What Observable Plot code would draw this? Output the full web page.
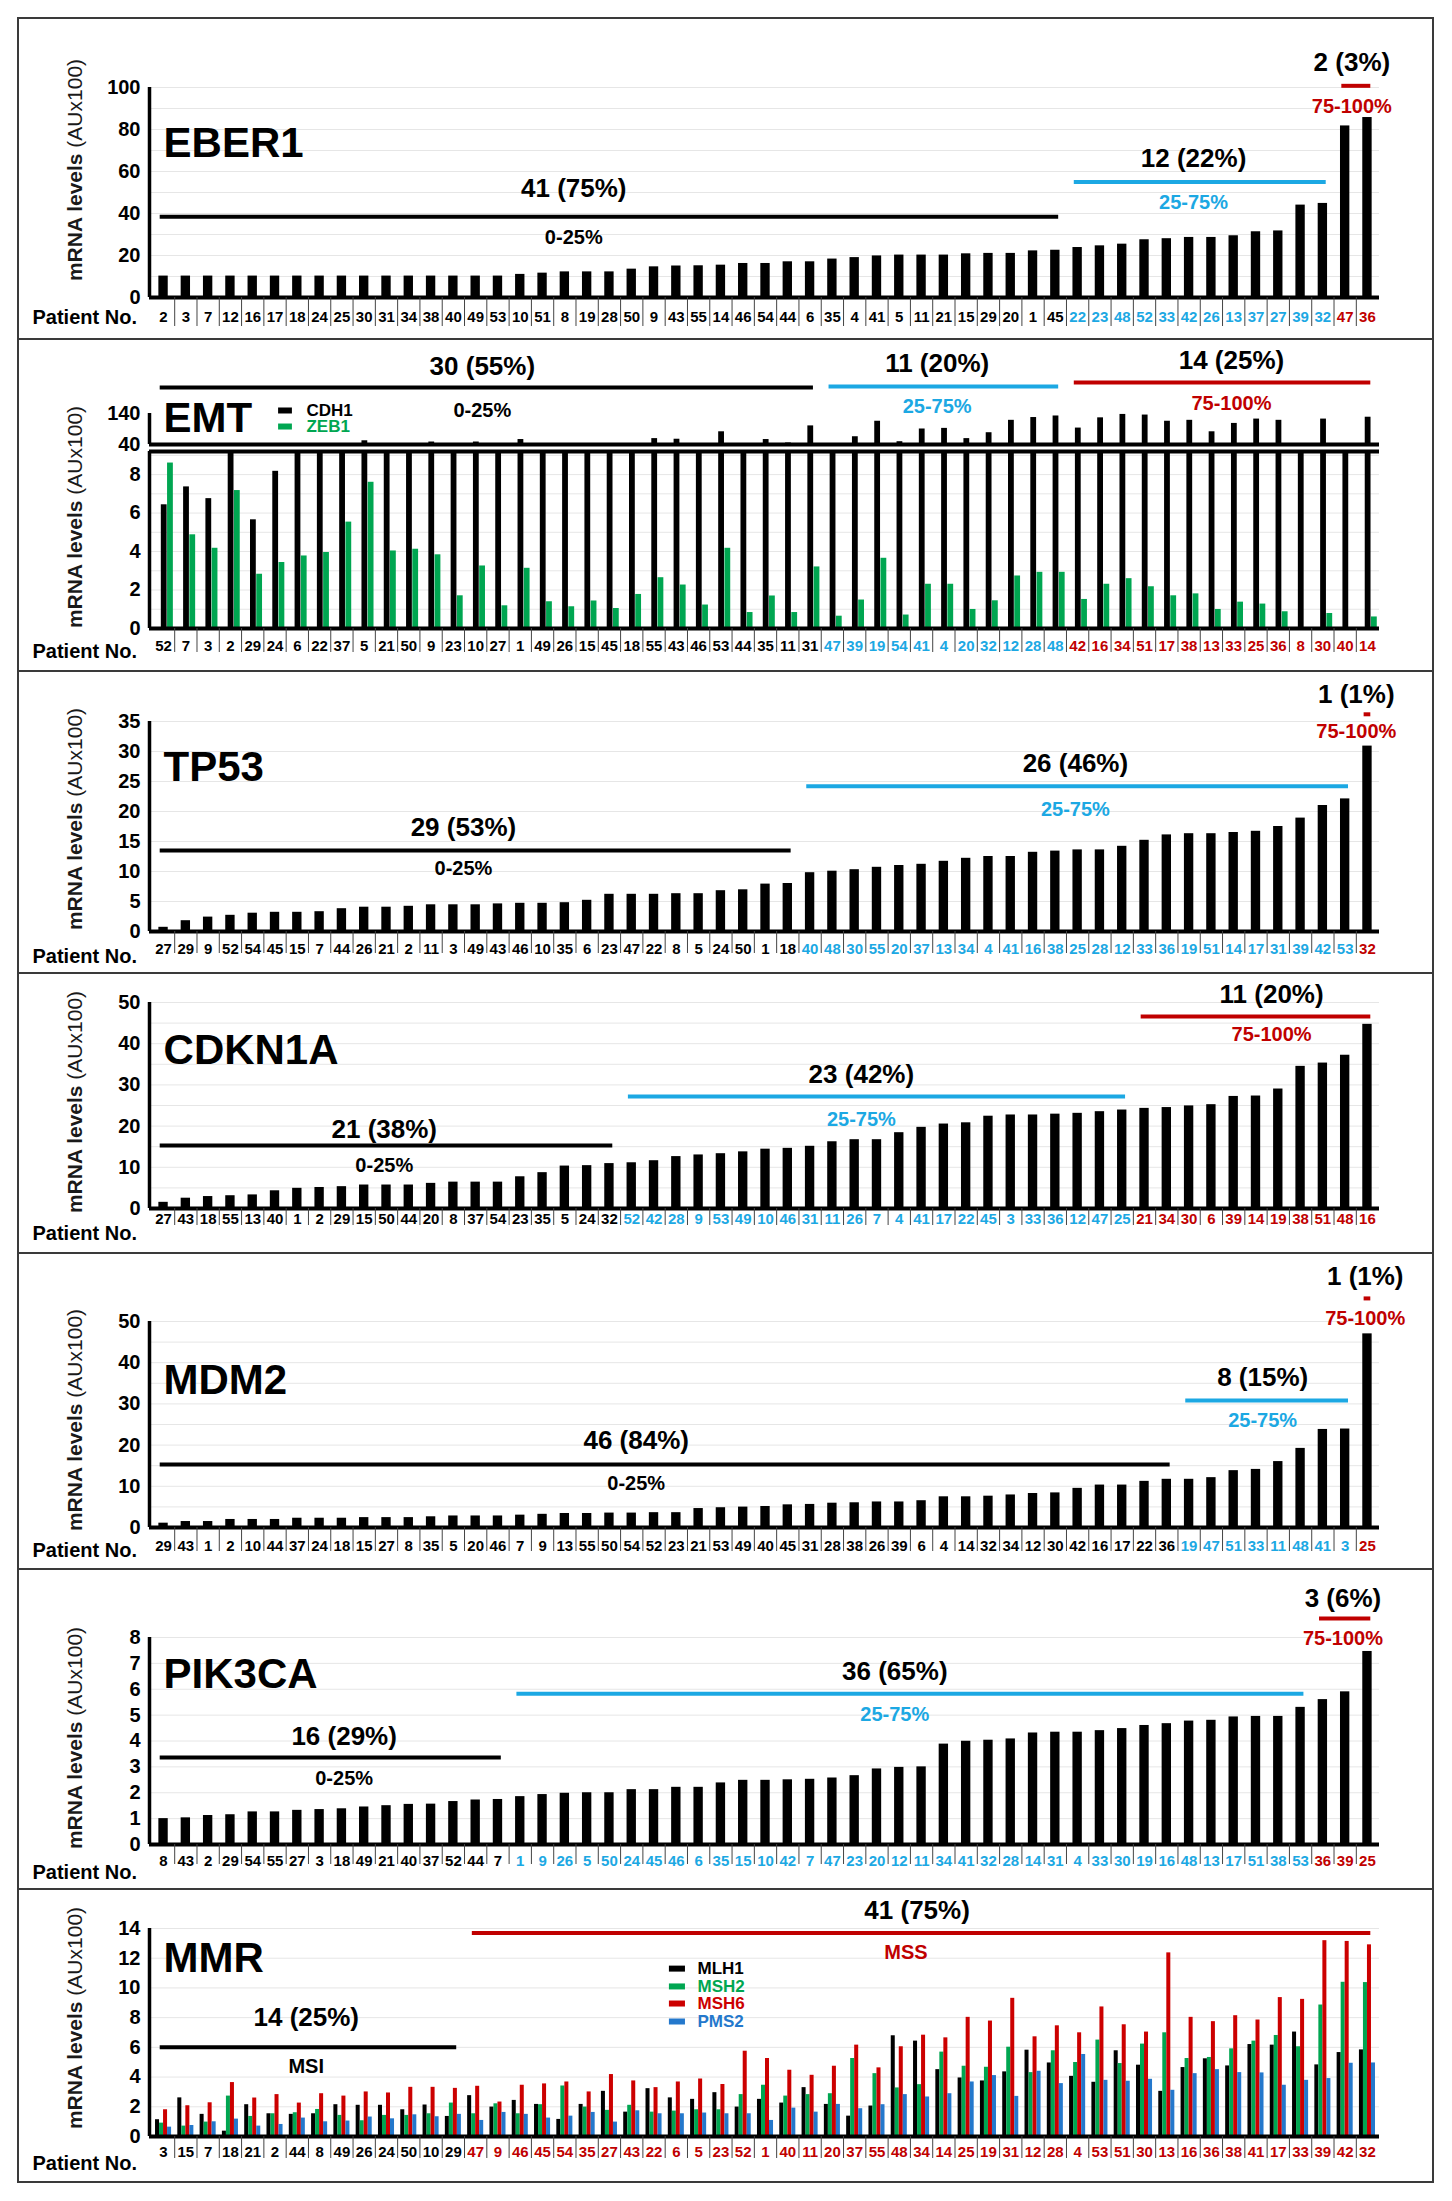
<!DOCTYPE html>
<html><head><meta charset="utf-8">
<script src="https://cdn.jsdelivr.net/npm/d3@7"></script>
<script src="https://cdn.jsdelivr.net/npm/@observablehq/plot@0.6"></script>
<style>
html,body{margin:0;padding:0;background:#fff;}
#fig{position:relative;width:1452px;height:2201px;background:#fff;overflow:hidden;}
#fig svg{position:absolute;left:0;}
.ln{position:absolute;background:#3a3a3a;}
</style></head><body><div id="fig"></div>
<script>
const BLACK="#000000", BLUE="#1ca8e3", RED="#c00000", GREEN="#00a651", PBLUE="#2478cc", MRED="#cc0000";
const FONT="'Liberation Sans', Arial, Helvetica, sans-serif";
const XD=[-0.63,54.54];

// ---------- EBER1 ----------
const eberPatients=[2,3,7,12,16,17,18,24,25,30,31,34,38,40,49,53,10,51,8,19,28,50,9,43,55,14,46,54,44,6,35,4,41,5,11,21,15,29,20,1,45,22,23,48,52,33,42,26,13,37,27,39,32,47,36];
const eberValues=[10.2,10.2,10.2,10.2,10.2,10.2,10.2,10.2,10.2,10.2,10.2,10.2,10.2,10.2,10.2,10.2,11.0,11.6,12.2,12.2,12.2,13.5,14.6,15.0,15.1,15.4,16.2,16.2,17.0,17.0,18.3,19.0,19.8,20.2,20.2,20.2,20.8,21.0,21.0,22.2,22.5,23.8,24.6,25.4,27.5,28.0,28.6,28.6,29.4,31.3,31.7,44.0,44.8,81.7,85.7];

// ---------- EMT ----------
const emtPatients=[52,7,3,2,29,24,6,22,37,5,21,50,9,23,10,27,1,49,26,15,45,18,55,43,46,53,44,35,11,31,47,39,19,54,41,4,20,32,12,28,48,42,16,34,51,17,38,13,33,25,36,8,30,40,14];
const cdh1Values=[6.43,7.36,6.75,30,5.65,8.17,28,32,42,52,35,42,48,30,48,33,56,30,29,42,31,43,59,57,42,81,35,56,45,100,43,65,115,49,90,92,59,78,118,127,132,93,126,137,135,115,118,81,108,122,118,30,122,43,128];
const zeb1Values=[8.6,4.87,4.17,7.17,2.82,3.43,3.77,3.95,5.53,7.6,4.03,4.12,3.83,1.7,3.25,1.18,3.13,1.39,1.13,1.43,1.04,1.77,2.64,2.26,1.22,4.17,0.83,1.69,0.83,3.2,0.64,1.48,3.65,0.7,2.3,2.3,0.99,1.44,2.73,2.92,2.92,1.51,2.3,2.59,2.17,1.7,1.8,0.99,1.37,1.27,0.87,0,0.78,0,0.6];

// ---------- TP53 ----------
const tpPatients=[27,29,9,52,54,45,15,7,44,26,21,2,11,3,49,43,46,10,35,6,23,47,22,8,5,24,50,1,18,40,48,30,55,20,37,13,34,4,41,16,38,25,28,12,33,36,19,51,14,17,31,39,42,53,32];
const tpValues=[0.7,1.8,2.4,2.7,3.05,3.2,3.2,3.3,3.8,4.05,4.05,4.2,4.45,4.45,4.45,4.6,4.7,4.7,4.8,5.2,6.2,6.2,6.2,6.3,6.3,6.8,6.95,7.9,8.0,9.8,10.05,10.3,10.7,11.0,11.2,11.7,12.2,12.5,12.5,13.2,13.4,13.6,13.6,14.2,15.2,16.1,16.3,16.3,16.5,16.7,17.5,18.9,21.0,22.1,30.9];

// ---------- CDKN1A ----------
const cdPatients=[27,43,18,55,13,40,1,2,29,15,50,44,20,8,37,54,23,35,5,24,32,52,42,28,9,53,49,10,46,31,11,26,7,4,41,17,22,45,3,33,36,12,47,25,21,34,30,6,39,14,19,38,51,48,16];
const cdValues=[1.5,2.5,2.9,3.1,3.3,4.3,4.9,5.1,5.3,5.7,5.7,5.7,6.1,6.4,6.4,6.4,7.7,8.7,10.3,10.4,10.9,11.1,11.6,12.6,13.0,13.3,13.75,14.4,14.6,15.1,16.2,16.7,16.7,18.4,19.7,20.5,20.8,22.4,22.7,22.7,22.9,23.1,23.5,23.9,24.3,24.5,24.9,25.2,27.2,27.3,29.0,34.5,35.3,37.2,44.7];

// ---------- MDM2 ----------
const mdPatients=[29,43,1,2,10,44,37,24,18,15,27,8,35,5,20,46,7,9,13,55,50,54,52,23,21,53,49,40,45,31,28,38,26,39,6,4,14,32,34,12,30,42,16,17,22,36,19,47,51,33,11,48,41,3,25];
const mdValues=[1.05,1.45,1.45,1.95,1.95,1.95,2.25,2.25,2.25,2.4,2.4,2.4,2.6,2.8,2.8,2.8,3.0,3.2,3.4,3.4,3.5,3.5,3.6,3.6,4.6,4.8,4.95,5.1,5.5,5.6,5.9,6.0,6.2,6.2,6.5,7.45,7.45,7.6,7.9,8.25,8.4,9.5,10.3,10.3,11.2,11.7,11.7,12.1,13.8,14.1,16.0,19.2,23.8,23.9,47.0];

// ---------- PIK3CA ----------
const pkPatients=[8,43,2,29,54,55,27,3,18,49,21,40,37,52,44,7,1,9,26,5,50,24,45,46,6,35,15,10,42,7,47,23,20,12,11,34,41,32,28,14,31,4,33,30,19,16,48,13,17,51,38,53,36,39,25];
const pkValues=[1.0,1.03,1.12,1.15,1.26,1.26,1.32,1.35,1.38,1.45,1.5,1.55,1.56,1.66,1.72,1.74,1.85,1.93,1.98,2.0,2.0,2.12,2.12,2.21,2.21,2.38,2.48,2.48,2.5,2.52,2.57,2.66,2.92,2.98,3.0,3.88,3.99,4.03,4.08,4.31,4.34,4.34,4.4,4.48,4.6,4.67,4.77,4.8,4.93,4.95,4.95,5.3,5.6,5.9,7.46];

// ---------- MMR ----------
const mmrPatients=[3,15,7,18,21,2,44,8,49,26,24,50,10,29,47,9,46,45,54,35,27,43,22,6,5,23,52,1,40,11,20,37,55,48,34,14,25,19,31,12,28,4,53,51,30,13,16,36,38,41,17,33,39,42,32];
const mlh1Values=[1.13,2.6,1.49,0.36,2.14,1.53,1.49,1.53,2.14,2.1,2.1,1.8,2.12,1.35,2.75,1.98,2.43,2.16,1.15,2.16,3.04,1.64,3.22,2.6,2.5,2.95,1.98,2.5,2.25,3.29,2.16,1.37,2.05,6.78,6.42,4.5,3.94,3.74,4.35,5.81,4.95,4.05,3.65,5.77,4.8,3.04,4.64,5.23,4.75,6.19,6.15,7.03,4.82,5.65,5.83];
const msh2Values=[0.9,0.7,0.97,2.72,1.35,1.53,1.6,1.82,1.42,1.06,1.42,1.42,1.53,2.25,1.53,2.2,1.53,2.14,3.4,1.98,1.76,2.1,1.64,1.71,1.8,1.8,2.82,3.45,2.72,2.82,2.88,5.25,4.23,3.27,3.49,5.68,4.73,4.66,6.01,4.3,5.77,4.98,6.49,4.91,6.22,6.98,5.25,5.32,5.9,6.42,6.8,6.04,8.85,10.38,10.36];
const msh6Values=[1.8,2.07,2.27,3.63,2.59,2.82,2.25,2.88,2.72,3.0,2.93,3.31,3.31,3.24,3.38,2.32,3.45,3.54,3.67,3.0,4.17,3.74,3.29,3.67,3.87,3.5,5.74,5.25,4.46,4.12,4.73,6.15,4.62,6.04,6.82,6.64,8.02,7.77,9.3,6.71,7.45,6.98,8.72,7.52,7.03,12.36,8.02,7.73,8.13,7.84,9.35,9.23,13.18,13.13,12.9];
const pms2Values=[0.63,0.74,0.99,1.17,0.7,0.81,1.24,0.99,1.04,1.31,1.19,1.46,1.33,1.49,1.08,1.62,1.49,1.24,1.37,1.62,0.97,1.73,1.53,1.53,1.58,1.53,1.53,1.08,1.91,1.64,2.16,1.87,2.14,2.82,2.66,2.88,3.67,4.1,2.7,4.39,3.56,5.52,3.78,3.72,3.85,3.11,4.23,4.5,4.3,4.28,3.45,3.78,3.9,4.93,4.95];

const yTitleText=["mRNA levels ","(AUx100)"];

function grp(s,e,c,ly,count,cy,range,ry,xc,xr){return {s,e,c,ly,count,cy,range,ry,xc,xr:(xr===undefined?xc:xr)};}
function colorFor(groups){return i=>{const g=groups.find(g=>i>=g.s&&i<=g.e);return g?g.c:BLACK;};}

function bars(values,{off=0,hw=0.21,fill=BLACK,base=0,filter=null,clip=false}={}){
  let data=values.map((v,i)=>({i,v}));
  if(filter) data=data.filter(filter);
  return Plot.rect(data,{x1:d=>d.i+off-hw,x2:d=>d.i+off+hw,y1:base,y2:"v",fill,clip});
}

const fig=document.getElementById("fig");

function makePlot(o){
  const n=55;
  const frameH=o.height-o.mt-o.mb;
  const marks=[];
  if(o.grid) marks.push(Plot.ruleY(o.grid,{stroke:"#e6e6e6",strokeWidth:1}));
  marks.push(...o.marks);
  if(o.topLine!==undefined) marks.push(Plot.ruleY([o.topLine],{stroke:BLACK,strokeWidth:4}));
  marks.push(Plot.ruleY([o.yDomain[0]],{stroke:BLACK,strokeWidth:4}));
  marks.push(Plot.ruleX([XD[0]],{y1:o.yDomain[0],y2:o.yDomain[1],stroke:BLACK,strokeWidth:3.5}));
  marks.push(Plot.axisY({ticks:o.yTicks,tickSize:0,tickPadding:9,fontSize:20,fontWeight:"bold",label:null,tickFormat:d=>String(d)}));
  if(o.patients){
    const col=colorFor(o.labelGroups);
    marks.push(Plot.ruleX(d3.range(n-1),{x:d=>d+0.5,insetTop:frameH,insetBottom:-o.sepLen,stroke:"#444",strokeWidth:1}));
    marks.push(Plot.text(d3.range(n),{x:d=>d,frameAnchor:"bottom",lineAnchor:"middle",dy:o.labelDy,text:d=>String(o.patients[d]),fill:d=>col(d),fontSize:15,fontWeight:"bold"}));
    marks.push(Plot.text(["Patient No."],{frameAnchor:"bottom-left",lineAnchor:"middle",dx:32-149,dy:o.pnDy,textAnchor:"start",fontSize:20,fontWeight:"bold",fill:BLACK}));
  }
  if(o.title) marks.push(Plot.text([o.title],{x:0,y:o.titleY,textAnchor:"start",fontSize:42,fontWeight:"bold",fill:BLACK}));
  if(o.groups){
    marks.push(Plot.ruleY(o.groups,{y:"ly",x1:d=>d.s-0.15,x2:d=>d.e+0.15,stroke:"c",strokeWidth:4}));
    marks.push(Plot.text(o.groups,{x:"xc",y:"cy",text:"count",fontSize:26,fontWeight:"bold",fill:BLACK}));
    marks.push(Plot.text(o.groups,{x:"xr",y:"ry",text:"range",fill:"c",fontSize:20,fontWeight:"bold"}));
  }
  if(o.extra) marks.push(...o.extra);
  const svg=Plot.plot({
    width:1452,height:o.height,marginLeft:149,marginRight:73,marginTop:o.mt,marginBottom:o.mb,
    x:{domain:XD,axis:null},y:{domain:o.yDomain},color:{type:"identity"},
    style:{fontFamily:FONT,background:"transparent",color:"#000",overflow:"visible"},
    marks
  });
  svg.style.top=o.top+"px";
  fig.appendChild(svg);
  if(o.yTitleY!==undefined){
    const t=d3.select(svg).append("text").attr("transform",`translate(74,${o.yTitleY-o.top}) rotate(-90)`)
      .attr("text-anchor","middle").attr("dominant-baseline","central").attr("font-size",21)
      .attr("font-family",FONT).attr("fill","#1a1a1a");
    t.append("tspan").attr("font-weight","bold").text(yTitleText[0]);
    t.append("tspan").attr("font-weight","normal").text(yTitleText[1]);
  }
  return svg;
}

// EBER1
makePlot({top:18,height:320,mt:69,mb:41,yDomain:[0,100],yTicks:[0,20,40,60,80,100],grid:d3.range(10,101,10),
  marks:[bars(eberValues)],patients:eberPatients,labelDy:20,pnDy:20,sepLen:29,
  title:"EBER1",titleY:73.3,yTitleY:170,
  groups:[grp(0,40,BLACK,38.4,"41 (75%)",52,"0-25%",28.6,18.4),grp(41,52,BLUE,55,"12 (22%)",66,"25-75%",45,46.2),grp(53,54,RED,100.8,"2 (3%)",112,"75-100%",91,53.3)],
  get labelGroups(){return this.groups;}});

// EMT
const emtGroups=[grp(0,29,BLACK,224,"30 (55%)",292,"0-25%",150,14.3),grp(30,40,BLUE,227,"11 (20%)",301,"25-75%",163,34.7),grp(41,54,RED,240,"14 (25%)",311,"75-100%",172,47.9)];
makePlot({top:340,height:108,mt:73,mb:4,yDomain:[40,140],yTicks:[40,140],
  marks:[bars(cdh1Values,{off:0.03,hw:0.13,base:40,filter:d=>d.v>40})],
  title:"EMT",titleY:124,groups:emtGroups,
  extra:[
    Plot.ruleY([149.7],{x1:5.16,x2:5.78,stroke:BLACK,strokeWidth:6}),
    Plot.ruleY([98],{x1:5.16,x2:5.78,stroke:GREEN,strokeWidth:6}),
    Plot.text(["CDH1"],{x:6.41,y:149.7,textAnchor:"start",fontSize:17,fontWeight:"bold",fill:BLACK}),
    Plot.text(["ZEB1"],{x:6.41,y:98,textAnchor:"start",fontSize:17,fontWeight:"bold",fill:GREEN})
  ]});
makePlot({top:448,height:222,mt:3,mb:42,yDomain:[0,9.2],yTicks:[0,2,4,6,8],grid:d3.range(1,10,1),topLine:9.2,
  marks:[bars(cdh1Values,{off:0.03,hw:0.13,clip:true}),bars(zeb1Values,{off:0.31,hw:0.13,fill:GREEN,clip:true})],
  patients:emtPatients,labelGroups:emtGroups,labelDy:18,pnDy:23,sepLen:24,yTitleY:517});

// TP53
makePlot({top:672,height:300,mt:49,mb:41,yDomain:[0,35],yTicks:[0,5,10,15,20,25,30,35],grid:d3.range(5,36,5),
  marks:[bars(tpValues)],patients:tpPatients,labelDy:18,pnDy:25,sepLen:22,
  title:"TP53",titleY:27.3,yTitleY:819,
  groups:[grp(0,28,BLACK,13.5,"29 (53%)",17.3,"0-25%",10.5,13.45),grp(29,53,BLUE,24.2,"26 (46%)",28,"25-75%",20.3,40.9),grp(54,54,RED,36.2,"1 (1%)",39.5,"75-100%",33.3,53.5)],
  get labelGroups(){return this.groups;}});

// CDKN1A
makePlot({top:973,height:279,mt:29,mb:44,yDomain:[0,50],yTicks:[0,10,20,30,40,50],grid:d3.range(5,51,5),
  marks:[bars(cdValues)],patients:cdPatients,labelDy:11,pnDy:25,sepLen:17,
  title:"CDKN1A",titleY:38.3,yTitleY:1102,
  groups:[grp(0,20,BLACK,15.3,"21 (38%)",19.2,"0-25%",10.4,9.9),grp(21,43,BLUE,27.2,"23 (42%)",32.5,"25-75%",21.6,31.3),grp(44,54,RED,46.6,"11 (20%)",52,"75-100%",42.2,49.7)],
  get labelGroups(){return this.groups;}});

// MDM2
makePlot({top:1253,height:315,mt:68,mb:41,yDomain:[0,50],yTicks:[0,10,20,30,40,50],grid:d3.range(5,51,5),
  marks:[bars(mdValues)],patients:mdPatients,labelDy:19,pnDy:23,sepLen:24,
  title:"MDM2",titleY:35.7,yTitleY:1420,
  groups:[grp(0,45,BLACK,15.3,"46 (84%)",21.1,"0-25%",10.7,21.2),grp(46,53,BLUE,30.8,"8 (15%)",36.4,"25-75%",26,49.3),grp(54,54,RED,55.6,"1 (1%)",61,"75-100%",50.7,53.9)],
  get labelGroups(){return this.groups;}});

// PIK3CA
makePlot({top:1569,height:319,mt:68,mb:44,yDomain:[0,8],yTicks:[0,1,2,3,4,5,6,7,8],grid:d3.range(1,9,1),
  marks:[bars(pkValues)],patients:pkPatients,labelDy:17,pnDy:28,sepLen:20,
  title:"PIK3CA",titleY:6.56,yTitleY:1738,
  groups:[grp(0,15,BLACK,3.36,"16 (29%)",4.17,"0-25%",2.55,8.1),grp(16,51,BLUE,5.83,"36 (65%)",6.68,"25-75%",5.02,32.8),grp(52,54,RED,8.73,"3 (6%)",9.5,"75-100%",7.95,52.9)],
  get labelGroups(){return this.groups;}});

// MMR
const mmrSeries=[["MLH1",BLACK],["MSH2",GREEN],["MSH6",MRED],["PMS2",PBLUE]];
const legendY=[11.3,10.1,8.95,7.74];
makePlot({top:1889,height:293,mt:39,mb:46,yDomain:[0,14],yTicks:[0,2,4,6,8,10,12,14],grid:d3.range(2,15,2),
  marks:[bars(mlh1Values,{off:-0.27,hw:0.09,fill:BLACK}),bars(msh2Values,{off:-0.09,hw:0.09,fill:GREEN}),bars(msh6Values,{off:0.09,hw:0.09,fill:MRED}),bars(pms2Values,{off:0.27,hw:0.09,fill:PBLUE})],
  patients:mmrPatients,labelDy:16,pnDy:27,sepLen:22,
  title:"MMR",titleY:12.0,yTitleY:2018,
  groups:[grp(0,13,BLACK,6.0,"14 (25%)",8.0,"MSI",4.7,6.4),grp(14,54,RED,13.7,"41 (75%)",15.2,"MSS",12.4,33.8,33.3)],
  get labelGroups(){return this.groups;},
  extra:[
    Plot.ruleY(mmrSeries.map((s,k)=>({y:legendY[k],c:s[1]})),{y:"y",x1:22.69,x2:23.41,stroke:"c",strokeWidth:6}),
    Plot.text(mmrSeries.map((s,k)=>({y:legendY[k],c:s[1],t:s[0]})),{x:23.95,y:"y",text:"t",fill:"c",textAnchor:"start",fontSize:17,fontWeight:"bold"})
  ]});

// panel borders
const seps=[18,339,671,973,1253,1569,1889,2182];
seps.forEach(y=>{const d=document.createElement("div");d.className="ln";Object.assign(d.style,{left:"17px",top:(y-1)+"px",width:"1417px",height:"2px"});fig.appendChild(d);});
[17,1432].forEach(x=>{const d=document.createElement("div");d.className="ln";Object.assign(d.style,{left:x+"px",top:"17px",width:"2px",height:(2183-17)+"px"});fig.appendChild(d);});
</script></body></html>
